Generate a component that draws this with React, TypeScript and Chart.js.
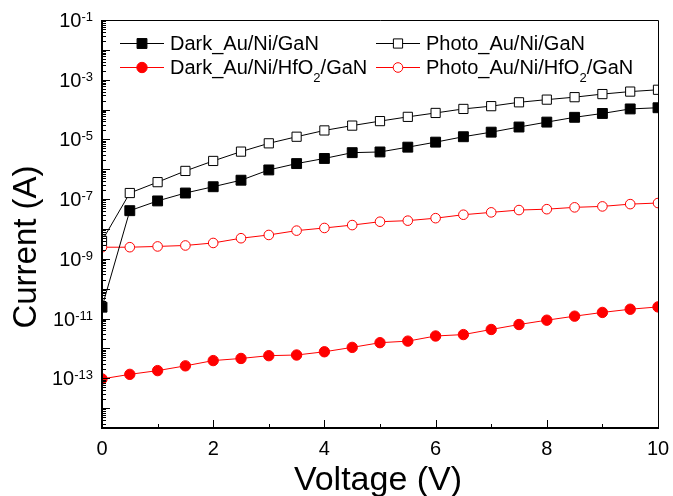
import React, { useEffect, useRef } from "react";
import Chart from "chart.js/auto";

const voltage = [0, 0.5, 1, 1.5, 2, 2.5, 3, 3.5, 4, 4.5, 5, 5.5, 6, 6.5, 7, 7.5, 8, 8.5, 9, 9.5, 10];

const darkAuNiGaN = [2.4e-11, 4.1e-8, 8.7e-8, 1.6e-7, 2.6e-7, 4.3e-7, 9.5e-7, 1.55e-6, 2.3e-6, 3.6e-6, 3.8e-6, 5.5e-6, 8.1e-6, 1.23e-5, 1.75e-5, 2.6e-5, 3.8e-5, 5.5e-5, 7.4e-5, 1.05e-4, 1.15e-4];
const photoAuNiGaN = [4.0e-9, 1.6e-7, 3.7e-7, 8.8e-7, 1.9e-6, 3.9e-6, 7.4e-6, 1.23e-5, 2.0e-5, 2.9e-5, 4.1e-5, 5.7e-5, 7.7e-5, 1.05e-4, 1.3e-4, 1.75e-4, 2.15e-4, 2.6e-4, 3.3e-4, 4.0e-4, 4.6e-4];
const darkAuNiHfO2GaN = [9.5e-14, 1.35e-13, 1.8e-13, 2.6e-13, 3.9e-13, 4.6e-13, 5.7e-13, 6.0e-13, 7.7e-13, 1.08e-12, 1.55e-12, 1.75e-12, 2.6e-12, 2.9e-12, 4.3e-12, 6.3e-12, 8.8e-12, 1.2e-11, 1.6e-11, 2.05e-11, 2.45e-11];
const photoAuNiHfO2GaN = [2.45e-9, 2.45e-9, 2.6e-9, 2.8e-9, 3.4e-9, 4.9e-9, 6.3e-9, 8.8e-9, 1.08e-8, 1.35e-8, 1.75e-8, 1.9e-8, 2.3e-8, 3.0e-8, 3.6e-8, 4.3e-8, 4.6e-8, 5.3e-8, 5.7e-8, 6.8e-8, 7.4e-8];

const xTickLabels = ["0", "2", "4", "6", "8", "10"];
const xTickValues = [0, 2, 4, 6, 8, 10];
const yLabelExponents = [-1, -3, -5, -7, -9, -11, -13];

const FONT = '"Liberation Sans", Arial, sans-serif';

const seriesNames = ["Dark_Au/Ni/GaN", "Photo_Au/Ni/GaN", "Dark_Au/Ni/HfO|2|/GaN", "Photo_Au/Ni/HfO|2|/GaN"];

function pts(vals: number[]) {
  return vals.map((v, i) => ({ x: voltage[i], y: v }));
}

const drawPlugin = {
  id: "originStyle",
  afterDraw(chart: any) {
    const ctx = chart.ctx as CanvasRenderingContext2D;
    const xs = chart.scales.x;
    const ys = chart.scales.y;
    const { left, right, top, bottom } = chart.chartArea;
    ctx.save();
    // frame
    ctx.strokeStyle = "#000";
    ctx.lineWidth = 1;
    ctx.beginPath();
    ctx.moveTo(left, top + 0.5);
    ctx.lineTo(right + 0.5, top + 0.5);
    ctx.lineTo(right + 0.5, bottom);
    ctx.stroke();
    ctx.lineWidth = 2;
    ctx.beginPath();
    ctx.moveTo(left, top);
    ctx.lineTo(left, bottom);
    ctx.lineTo(right + 1, bottom);
    ctx.stroke();

    // y ticks
    ctx.lineWidth = 1;
    ctx.beginPath();
    for (let e = -1; e >= -15; e--) {
      for (let m = 1; m <= 9; m++) {
        const v = m * Math.pow(10, e);
        if (v < ys.min * 0.999 || v > ys.max * 1.001) continue;
        const y = Math.round(ys.getPixelForValue(v)) + 0.5;
        const len = m === 1 ? 8 : 4;
        ctx.moveTo(left, y);
        ctx.lineTo(left + len, y);
      }
    }
    // x ticks
    for (let v = 0; v <= 10; v++) {
      const x = Math.round(xs.getPixelForValue(v)) + 0.5;
      const len = v % 2 === 0 ? 8 : 4;
      ctx.moveTo(x, bottom);
      ctx.lineTo(x, bottom - len);
    }
    ctx.stroke();

    ctx.fillStyle = "#000";
    // y labels
    ctx.textBaseline = "alphabetic";
    ctx.textAlign = "left";
    for (const e of yLabelExponents) {
      const y = ys.getPixelForValue(Math.pow(10, e));
      ctx.font = `13px ${FONT}`;
      const sup = String(e);
      const w2 = ctx.measureText(sup).width;
      ctx.font = `20px ${FONT}`;
      const w1 = ctx.measureText("10").width;
      const rx = 93;
      ctx.fillText("10", rx - w2 - w1, y + 7);
      ctx.font = `13px ${FONT}`;
      ctx.fillText(sup, rx - w2, y + 1);
    }
    // x labels
    ctx.textAlign = "center";
    ctx.font = `20px ${FONT}`;
    xTickValues.forEach((v, i) => {
      ctx.fillText(xTickLabels[i], xs.getPixelForValue(v), bottom + 27);
    });

    // axis titles
    ctx.font = `34px ${FONT}`;
    ctx.fillText("Voltage (V)", 378, 490);
    ctx.save();
    ctx.translate(36, 247);
    ctx.rotate(-Math.PI / 2);
    ctx.font = `33px ${FONT}`;
    ctx.fillText("Current (A)", 0, 0);
    ctx.restore();

    // legend
    const ds = chart.data.datasets;
    const pos = [
      { lx: 120, ly: 43 },
      { lx: 376, ly: 43 },
      { lx: 120, ly: 67 },
      { lx: 376, ly: 67 },
    ];
    pos.forEach((p, i) => {
      const d = ds[i];
      ctx.strokeStyle = d.borderColor;
      ctx.lineWidth = 1;
      ctx.beginPath();
      ctx.moveTo(p.lx, p.ly + 0.5);
      ctx.lineTo(p.lx + 44, p.ly + 0.5);
      ctx.stroke();
      const cx = p.lx + 22;
      ctx.lineWidth = 1;
      ctx.fillStyle = d.pointBackgroundColor;
      ctx.strokeStyle = d.pointBorderColor;
      ctx.beginPath();
      if (d.pointStyle === "rect") {
        const s = d.pointRadius * Math.SQRT1_2;
        ctx.rect(cx - s, p.ly - s + 0.5, 2 * s, 2 * s);
      } else {
        ctx.arc(cx, p.ly + 0.5, d.pointRadius, 0, Math.PI * 2);
      }
      ctx.fill();
      ctx.stroke();
      // text
      ctx.fillStyle = "#000";
      ctx.textAlign = "left";
      let tx = p.lx + 50;
      const parts = seriesNames[i].split("|");
      parts.forEach((part, k) => {
        if (k % 2 === 1) {
          ctx.font = `13px ${FONT}`;
          ctx.fillText(part, tx, p.ly + 15);
        } else {
          ctx.font = `20px ${FONT}`;
          ctx.fillText(part, tx, p.ly + 7);
        }
        tx += ctx.measureText(part).width;
      });
    });
    ctx.restore();
  },
};

export default function App() {
  const ref = useRef<HTMLCanvasElement | null>(null);
  useEffect(() => {
    document.body.style.margin = "0";
    const canvas = ref.current!;
    const chart = new Chart(canvas, {
      type: "line",
      data: {
        datasets: [
          {
            label: "Dark_Au/Ni/GaN",
            data: pts(darkAuNiGaN),
            borderColor: "#000000",
            borderWidth: 1,
            pointStyle: "rect",
            pointRadius: 7,
            pointBackgroundColor: "#000000",
            pointBorderColor: "#000000",
            pointBorderWidth: 1,
            clip: 0,
          },
          {
            label: "Photo_Au/Ni/GaN",
            data: pts(photoAuNiGaN),
            borderColor: "#000000",
            borderWidth: 1,
            pointStyle: "rect",
            pointRadius: 6.5,
            pointBackgroundColor: "#ffffff",
            pointBorderColor: "#000000",
            pointBorderWidth: 1,
            clip: 0,
          },
          {
            label: "Dark_Au/Ni/HfO2/GaN",
            data: pts(darkAuNiHfO2GaN),
            borderColor: "#ff0000",
            borderWidth: 1,
            pointStyle: "circle",
            pointRadius: 5.2,
            pointBackgroundColor: "#ff0000",
            pointBorderColor: "#ff0000",
            pointBorderWidth: 1,
            clip: 0,
          },
          {
            label: "Photo_Au/Ni/HfO2/GaN",
            data: pts(photoAuNiHfO2GaN),
            borderColor: "#ff0000",
            borderWidth: 1,
            pointStyle: "circle",
            pointRadius: 4.8,
            pointBackgroundColor: "#ffffff",
            pointBorderColor: "#ff0000",
            pointBorderWidth: 1,
            clip: 0,
          },
        ],
      },
      options: {
        animation: false,
        responsive: false,
        devicePixelRatio: 1,
        layout: { padding: { left: 102, top: 20, right: 15, bottom: 68 } },
        plugins: { legend: { display: false }, tooltip: { enabled: false } },
        scales: {
          x: { type: "linear", min: 0, max: 10, display: false },
          y: { type: "logarithmic", min: Math.pow(10, -14.667), max: 0.1, display: false },
        },
      },
      plugins: [drawPlugin],
    } as any);
    return () => chart.destroy();
  }, []);
  return <canvas ref={ref} width={673} height={496} style={{ display: "block" }} />;
}
